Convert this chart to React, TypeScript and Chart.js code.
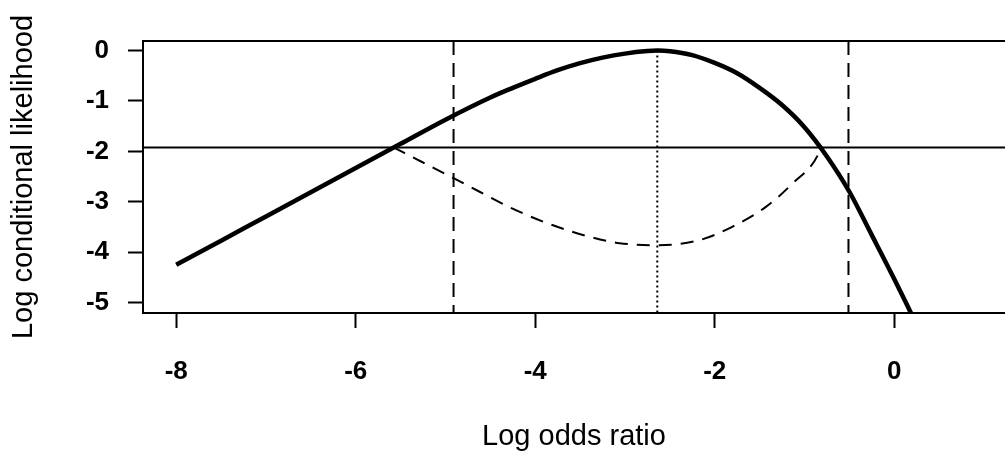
import React, { useEffect, useRef } from "react";
import { Chart, registerables } from "chart.js";

Chart.register(...registerables);

// Profile log conditional likelihood (solid)
const solidX = [-8.0, -7.5, -7.0, -6.5, -6.0, -5.5, -5.0, -4.5, -4.25, -4.0, -3.75, -3.5, -3.25, -3.0, -2.75, -2.64, -2.5, -2.25, -2.0, -1.75, -1.5, -1.25, -1.0, -0.75, -0.5, -0.25, 0.0, 0.19];
const solidY = [-4.25, -3.77, -3.29, -2.81, -2.33, -1.85, -1.37, -0.93, -0.74, -0.56, -0.39, -0.25, -0.14, -0.06, -0.01, 0.0, -0.012, -0.09, -0.245, -0.45, -0.74, -1.08, -1.52, -2.1, -2.8, -3.66, -4.53, -5.22];

// Dashed curve between the crossings
const dashX = [-5.58, -5.25, -4.91, -4.62, -4.21, -3.81, -3.4, -3.06, -2.64, -2.17, -1.8, -1.43, -1.13, -0.85, -0.82];
const dashY = [-1.92, -2.22, -2.53, -2.8, -3.17, -3.46, -3.69, -3.82, -3.86, -3.76, -3.49, -3.1, -2.63, -2.07, -1.92];

// Reference lines
const cutoffLevel = -1.92;
const intervalBounds = [-4.91, -0.51];
const mleValue = -2.64;

const xTicks = [-8, -6, -4, -2, 0];
const yTicks = [0, -1, -2, -3, -4, -5];
const xRange = [-8.37, 1.234];
const yRange = [-5.205, 0.19];

const frame = {
  id: "frame",
  afterDatasetsDraw(chart: any) {
    const { ctx, chartArea } = chart;
    ctx.save();
    ctx.strokeStyle = "#000";
    ctx.lineWidth = 2;
    ctx.beginPath();
    ctx.moveTo(chartArea.left, chartArea.top);
    ctx.lineTo(chartArea.right, chartArea.top);
    ctx.stroke();
    ctx.restore();
  },
};

export default function App() {
  const ref = useRef<HTMLCanvasElement | null>(null);
  useEffect(() => {
    document.body.style.margin = "0";
    const pts = (xs: number[], ys: number[]) => xs.map((x, i) => ({ x, y: ys[i] }));
    const base = { pointRadius: 0, borderColor: "#000", fill: false };
    const datasets: any[] = [
      { ...base, data: pts(solidX, solidY), borderWidth: 4.5, cubicInterpolationMode: "monotone" },
      { ...base, data: pts(dashX, dashY), borderWidth: 2, borderDash: [13, 9], cubicInterpolationMode: "monotone" },
      { ...base, data: pts([xRange[0], xRange[1]], [cutoffLevel, cutoffLevel]), borderWidth: 2 },
      ...intervalBounds.map((b) => ({
        ...base,
        data: pts([b, b], [yRange[1], yRange[0]]),
        borderWidth: 2,
        borderDash: [14, 8],
      })),
      { ...base, data: pts([mleValue, mleValue], [0, yRange[0]]), borderWidth: 2, borderDash: [2, 3] },
    ];
    const chart = new Chart(ref.current as HTMLCanvasElement, {
      type: "line",
      data: { datasets },
      plugins: [frame],
      options: {
        animation: false,
        responsive: false,
        devicePixelRatio: 1,
        layout: { padding: { top: 41, right: 0, left: 0, bottom: 0 } },
        plugins: { legend: { display: false }, tooltip: { enabled: false } },
        scales: {
          x: {
            type: "linear",
            min: xRange[0],
            max: xRange[1],
            afterBuildTicks: (s: any) => {
              s.ticks = xTicks.map((v) => ({ value: v }));
            },
            afterFit: (s: any) => {
              s.height = 138;
            },
            grid: { display: true, drawOnChartArea: false, drawTicks: true, tickLength: 15, tickWidth: 2, tickColor: "#000" },
            border: { display: true, color: "#000", width: 2 },
            ticks: {
              autoSkip: false,
              maxRotation: 0,
              padding: 28,
              color: "#000",
              font: { family: "Liberation Sans", size: 26, weight: "bold" },
            },
            title: {
              display: true,
              text: "Log odds ratio",
              color: "#000",
              font: { family: "Liberation Sans", size: 29, lineHeight: 1 },
              padding: { top: 0, bottom: 0 },
            },
          },
          y: {
            type: "linear",
            min: yRange[0],
            max: yRange[1],
            afterBuildTicks: (s: any) => {
              s.ticks = yTicks.map((v) => ({ value: v }));
            },
            afterFit: (s: any) => {
              s.width = 143;
            },
            grid: { display: true, drawOnChartArea: false, drawTicks: true, tickLength: 15, tickWidth: 2, tickColor: "#000" },
            border: { display: true, color: "#000", width: 2 },
            ticks: {
              padding: 19,
              color: "#000",
              font: { family: "Liberation Sans", size: 26, weight: "bold" },
            },
            title: {
              display: true,
              text: "Log conditional likelihood",
              color: "#000",
              font: { family: "Liberation Sans", size: 29, lineHeight: 1 },
              padding: { top: 9, bottom: 0 },
            },
          },
        },
      },
    } as any);
    return () => chart.destroy();
  }, []);
  return (
    <div style={{ position: "absolute", left: 0, top: 0, width: 1005, height: 451, background: "#fff" }}>
      <canvas ref={ref} width={1005} height={451} style={{ display: "block" }} />
    </div>
  );
}
